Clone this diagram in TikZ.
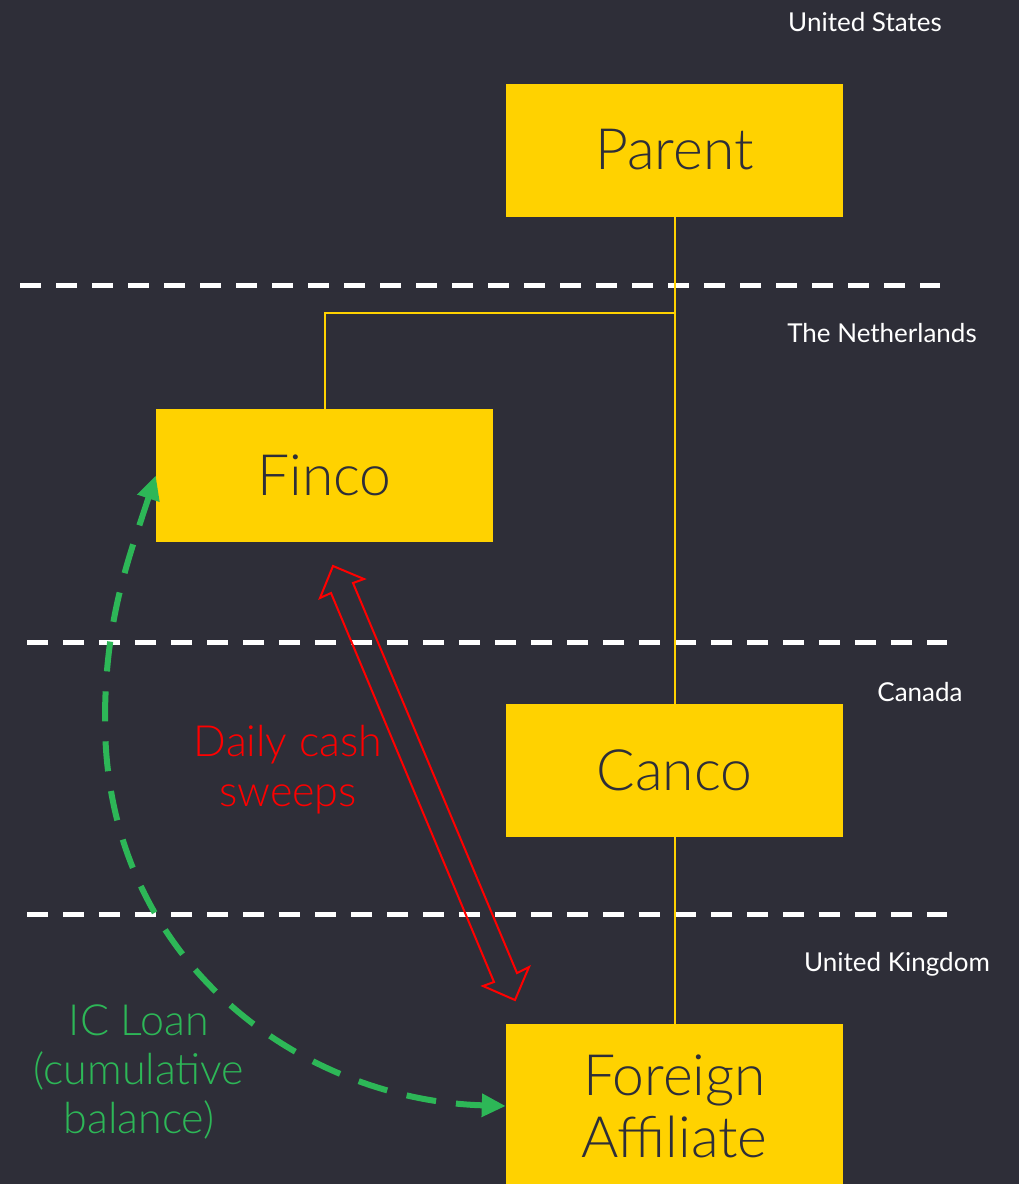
\documentclass[tikz,border=0pt]{standalone}
\usepackage{fontspec}
\setmainfont{Lato Light}
\newfontfamily\regfont{Lato}
\usetikzlibrary{arrows.meta}
\definecolor{bgc}{HTML}{2E2E38}
\definecolor{eyy}{HTML}{FFD200}
\definecolor{eyg}{HTML}{2DB757}
\definecolor{eyr}{HTML}{FF0000}
\tikzset{
  entity/.style={fill=eyy, draw=none, minimum width=337pt, minimum height=133pt, inner sep=0pt, text=bgc, font=\fontsize{57}{62}\selectfont, align=center},
  country/.style={text=white, font=\regfont\fontsize{26}{30}\selectfont, inner sep=0pt},
  owner/.style={draw=eyy, line width=2pt},
  border/.style={draw=white, line width=5pt, dash pattern=on 21pt off 15pt},
  loan/.style={draw=eyg, line width=6pt, dash pattern=on 30pt off 20pt, {Triangle[length=24pt,width=22pt]}-{Triangle[length=24pt,width=22pt]}},
  sweep/.style={draw=eyr, line width=2pt, line join=miter}
}
\begin{document}
\begin{tikzpicture}[x=1pt,y=-1pt]
\fill[bgc] (0,0) rectangle (1019,1184);
\useasboundingbox (0,0) rectangle (1019,1184);

% country borders
\draw[border] (20,285) -- (940,285);
\draw[border] (27,642) -- (947,642);
\draw[border] (27,914) -- (947,914);

% country labels
\node[country] (us) at (865,22) {United States};
\node[country] (nl) at (882,333) {The Netherlands};
\node[country] (ca) at (920,692) {Canada};
\node[country] (uk) at (897,964) {United Kingdom};

% entities
\node[entity] (parent) at (674.5,150) {Parent};
\node[entity] (finco) at (324.5,475.5) {Finco};
\node[entity] (canco) at (674.5,770.5) {Canco};
\node[entity, minimum height=164pt] (fa) at (674.5,1106) {Foreign\\Affiliate};

% ownership lines
\coordinate (br) at (674.5,313);
\draw[owner] (parent.south) -- (canco.north);
\draw[owner] (br) -| (finco.north);
\draw[owner] (canco.south) -- (fa.north);

% daily cash sweeps (hollow double arrow)
\draw[sweep] (333,566) -- (364,579) -- (353,583) -- (517,973) -- (529,967) -- (515,1000) -- (483,986) -- (494,982) -- (331,593) -- (320,598) -- cycle;
\node[text=eyr, font=\fontsize{43}{50}\selectfont, align=center, inner sep=0pt] (dcs) at (288,770) {Daily cash\\sweeps};

% IC loan
\draw[loan] (finco.west) .. controls (128,560) and (105,620) .. (105,720) .. controls (105,960) and (300,1100) .. (fa.west);
\node[text=eyg, font=\fontsize{43}{49}\selectfont, align=center, inner sep=0pt] (icl) at (139,1072) {IC Loan\\(cumulative\\balance)};
\end{tikzpicture}
\end{document}
